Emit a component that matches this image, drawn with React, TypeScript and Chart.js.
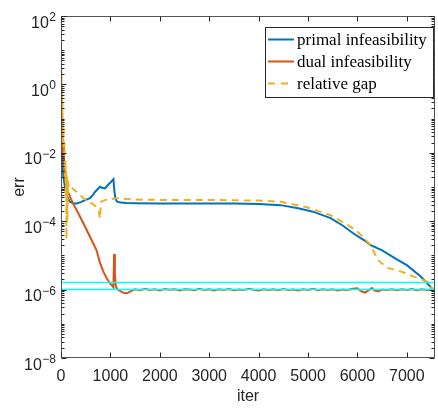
import { useEffect, useRef } from "react";
import { Chart, registerables } from "chart.js";

Chart.register(...registerables);

// ---------- data ----------
const X_MAX = 7570;
const Y_MIN = 1e-8;
const Y_MAX = 1e2;
const xTickValues = [0, 1000, 2000, 3000, 4000, 5000, 6000, 7000];
const yTickExponents = [2, 0, -2, -4, -6, -8];
const seriesNames = ["primal infeasibility", "dual infeasibility", "relative gap"];
const xLabel = "iter";
const yLabel = "err";

const primalIter = [0, 10, 20, 30, 47, 60, 80, 100, 130, 180, 250, 318, 400, 500, 588, 650, 700, 791, 830, 892, 950, 1000, 1061, 1080, 1100, 1130, 1200, 1332, 1500, 2000, 2500, 3000, 3500, 4000, 4442, 4800, 5100, 5456, 5700, 5900, 6065, 6150, 6268, 6500, 6815, 7000, 7282, 7400, 7530];
const primalVal = [1.5e-2, 8e-3, 3e-2, 5e-3, 2e-3, 1.5e-3, 1e-3, 7e-4, 5e-4, 3.7e-4, 3.3e-4, 3.3e-4, 3.6e-4, 4.2e-4, 4.7e-4, 6e-4, 7.5e-4, 1.02e-3, 9.5e-4, 9.1e-4, 1.15e-3, 1.35e-3, 1.7e-3, 8e-4, 4.6e-4, 3.8e-4, 3.5e-4, 3.4e-4, 3.35e-4, 3.3e-4, 3.3e-4, 3.3e-4, 3.3e-4, 3.2e-4, 2.95e-4, 2.4e-4, 1.9e-4, 1.23e-4, 7.5e-5, 4.6e-5, 3.2e-5, 2.7e-5, 2.0e-5, 1.4e-5, 7.4e-6, 5.2e-6, 2.4e-6, 1.6e-6, 1.0e-6];

const dualIter = [0, 5, 10, 15, 20, 30, 40, 50, 60, 70, 80, 100, 130, 180, 250, 350, 453, 550, 656, 720, 791, 860, 927, 1000, 1061, 1075, 1090, 1110, 1130, 1200, 1280, 1332, 1400, 1467, 1500, 1600, 1700, 1800, 1900, 2000, 2100, 2200, 2300, 2400, 2500, 2600, 2700, 2800, 2900, 3000, 3100, 3200, 3300, 3400, 3500, 3600, 3700, 3800, 3900, 4000, 4100, 4200, 4300, 4400, 4500, 4600, 4700, 4800, 4900, 5000, 5100, 5200, 5300, 5400, 5500, 5600, 5700, 5800, 5900, 6000, 6070, 6150, 6230, 6290, 6350, 6420, 6500, 6600, 6700, 6800, 6900, 7000, 7100, 7200, 7300, 7400, 7530];
const dualVal = [3e-1, 5e-2, 1.5e-1, 2e-2, 6e-2, 3e-2, 8e-3, 2e-2, 5e-3, 3e-3, 2e-3, 1.2e-3, 8e-4, 5.2e-4, 3.2e-4, 1.7e-4, 8.7e-5, 4.5e-5, 2.2e-5, 1.4e-5, 5.9e-6, 3.3e-6, 2.1e-6, 1.5e-6, 1.17e-6, 1.1e-5, 3e-6, 1.3e-6, 1.05e-6, 9e-7, 7.9e-7, 7.8e-7, 8.7e-7, 9.8e-7, 1.02e-6, 0.96e-6, 1.05e-6, 0.98e-6, 1.03e-6, 0.95e-6, 1.04e-6, 0.99e-6, 1.02e-6, 0.94e-6, 1.03e-6, 1.0e-6, 0.96e-6, 1.05e-6, 0.97e-6, 1.02e-6, 0.95e-6, 1.03e-6, 0.98e-6, 1.04e-6, 0.96e-6, 1.01e-6, 0.97e-6, 1.05e-6, 0.99e-6, 0.95e-6, 1.03e-6, 0.98e-6, 1.02e-6, 0.96e-6, 1.04e-6, 0.97e-6, 1.01e-6, 0.95e-6, 1.03e-6, 0.98e-6, 1.05e-6, 0.96e-6, 1.02e-6, 0.97e-6, 1.03e-6, 0.95e-6, 1.01e-6, 0.97e-6, 1.06e-6, 1.1e-6, 0.9e-6, 0.82e-6, 0.97e-6, 1.11e-6, 0.94e-6, 0.88e-6, 1.0e-6, 0.97e-6, 1.03e-6, 0.96e-6, 1.02e-6, 0.98e-6, 1.04e-6, 0.96e-6, 1.02e-6, 0.97e-6, 1.0e-6];

const gapIter = [0, 5, 10, 15, 20, 25, 30, 40, 50, 60, 70, 80, 90, 100, 105, 110, 115, 120, 125, 130, 140, 160, 200, 300, 453, 600, 723, 760, 790, 810, 900, 1127, 1500, 2000, 3000, 4000, 4442, 5000, 5456, 5800, 6000, 6268, 6410, 6613, 6880, 7140, 7424, 7530];
const gapVal = [6, 4e-1, 2.5, 2e-1, 8e-1, 5e-2, 3e-1, 2e-2, 6e-2, 8e-3, 2e-2, 2e-3, 6e-3, 5e-4, 3e-3, 3e-5, 8e-4, 1e-4, 2e-3, 1e-4, 1.5e-3, 9e-4, 1e-3, 7.5e-4, 4.7e-4, 3.5e-4, 2.6e-4, 2.2e-4, 1.2e-4, 3.7e-4, 4.2e-4, 4.7e-4, 4.3e-4, 4.2e-4, 4.2e-4, 4.0e-4, 3.7e-4, 2.5e-4, 1.5e-4, 7.8e-5, 5e-5, 2e-5, 7.4e-6, 4.3e-6, 3.4e-6, 2.4e-6, 1.7e-6, 1.0e-6];

const thresholdVals = [1.6e-6, 1e-6];

// ---------- styles ----------
const BLUE = "#0072BD";
const RED = "#D95319";
const GOLD = "#EDB120";
const CYAN = "#00FFFF";
const AXIS = "#262626";
const SANS = "'Liberation Sans', Arial, sans-serif";
const SERIF = "'Liberation Serif', 'Times New Roman', serif";

const toPts = (xs: number[], ys: number[]) => xs.map((x, i) => ({ x, y: ys[i] }));

const axesPlugin = {
  id: "matlabAxes",
  afterDraw(chart: any) {
    const { ctx, chartArea: a, scales } = chart;
    const xs = scales.x;
    const ys = scales.y;
    const L = Math.floor(a.left) + 0.5;
    const R = Math.floor(a.right) - 0.5;
    const T = Math.floor(a.top) + 0.5;
    const B = Math.floor(a.bottom) - 0.5;
    ctx.save();
    ctx.strokeStyle = "#555555";
    ctx.lineWidth = 1;
    ctx.strokeRect(L, T, R - L, B - T);
    ctx.strokeStyle = AXIS;
    ctx.beginPath();
    for (const v of xTickValues) {
      const px = Math.round(xs.getPixelForValue(v)) + 0.5;
      ctx.moveTo(px, B);
      ctx.lineTo(px, B - 5);
      ctx.moveTo(px, T);
      ctx.lineTo(px, T + 5);
    }
    for (let e = -8; e <= 2; e++) {
      const major = e % 2 === 0;
      for (let m = 1; m <= 9; m++) {
        if (e === 2 && m > 1) break;
        const v = m * Math.pow(10, e);
        const py = Math.round(ys.getPixelForValue(v)) + 0.5;
        const len = m === 1 && major ? 5 : 3;
        ctx.moveTo(L, py);
        ctx.lineTo(L + len, py);
        ctx.moveTo(R, py);
        ctx.lineTo(R - len, py);
      }
    }
    ctx.stroke();

    // y tick labels 10^k
    ctx.fillStyle = AXIS;
    for (const e of yTickExponents) {
      const py = ys.getPixelForValue(Math.pow(10, e));
      const expText = e < 0 ? "\u2212" + String(-e) : String(e);
      ctx.font = `12px ${SANS}`;
      const ew = ctx.measureText(expText).width;
      const xEnd = 56;
      ctx.textAlign = "left";
      ctx.textBaseline = "alphabetic";
      ctx.fillText(expText, xEnd - ew, py + 5);
      ctx.font = `16px ${SANS}`;
      ctx.textAlign = "right";
      ctx.fillText("10", xEnd - ew - 0.5, py + 11.5);
    }

    // axis titles
    ctx.font = `16px ${SANS}`;
    ctx.textAlign = "center";
    ctx.textBaseline = "alphabetic";
    ctx.fillText(xLabel, (a.left + a.right) / 2, 401);
    ctx.save();
    ctx.translate(24, (a.top + a.bottom) / 2);
    ctx.rotate(-Math.PI / 2);
    ctx.fillText(yLabel, 0, 0);
    ctx.restore();

    // legend
    const lx = 265.5, ly = 27.5, lw = 168, lh = 70;
    ctx.fillStyle = "#ffffff";
    ctx.fillRect(lx, ly, lw, lh);
    ctx.strokeStyle = AXIS;
    ctx.lineWidth = 1;
    ctx.strokeRect(lx, ly, lw, lh);
    const colors = [BLUE, RED, GOLD];
    const rows = [39.5, 61.5, 83.5];
    ctx.font = `17px ${SERIF}`;
    ctx.textAlign = "left";
    ctx.textBaseline = "middle";
    seriesNames.forEach((name, i) => {
      ctx.strokeStyle = colors[i];
      ctx.lineWidth = 2;
      ctx.setLineDash(i === 2 ? [7, 6] : []);
      ctx.beginPath();
      ctx.moveTo(268, rows[i]);
      ctx.lineTo(294, rows[i]);
      ctx.stroke();
      ctx.setLineDash([]);
      ctx.fillStyle = "#000000";
      ctx.fillText(name, 297, rows[i] + 1);
    });
    ctx.restore();
  },
};

export default function App() {
  const ref = useRef<HTMLCanvasElement>(null);
  useEffect(() => {
    document.body.style.margin = "0";
    const canvas = ref.current;
    if (!canvas) return;
    const chart = new Chart(canvas, {
      type: "line",
      data: {
        datasets: [
          { label: seriesNames[0], data: toPts(primalIter, primalVal), borderColor: BLUE, borderWidth: 2, order: 4 },
          { label: seriesNames[1], data: toPts(dualIter, dualVal), borderColor: RED, borderWidth: 2, order: 3 },
          { label: seriesNames[2], data: toPts(gapIter, gapVal), borderColor: GOLD, borderWidth: 2, borderDash: [7, 5], order: 2 },
          { label: "threshold 1", data: [{ x: 0, y: thresholdVals[0] }, { x: X_MAX, y: thresholdVals[0] }], borderColor: CYAN, borderWidth: 1.5, order: 1 },
          { label: "threshold 2", data: [{ x: 0, y: thresholdVals[1] }, { x: X_MAX, y: thresholdVals[1] }], borderColor: CYAN, borderWidth: 1.5, order: 1 },
        ] as any,
      },
      options: {
        animation: false,
        responsive: false,
        devicePixelRatio: 1,
        layout: { padding: { top: 16, right: 3, left: 0, bottom: 0 } },
        elements: { line: { tension: 0 }, point: { radius: 0 } },
        plugins: { legend: { display: false }, tooltip: { enabled: false } },
        scales: {
          x: {
            type: "linear",
            min: 0,
            max: X_MAX,
            grid: { display: false, drawTicks: false },
            border: { display: false },
            ticks: {
              font: { family: SANS, size: 16 },
              color: AXIS,
              padding: 9,
              maxRotation: 0,
              autoSkip: false,
              callback: (v: any) => String(v),
            },
            afterBuildTicks: (s: any) => {
              s.ticks = xTickValues.map((v) => ({ value: v }));
            },
            afterFit: (s: any) => {
              s.height = 50;
            },
          },
          y: {
            type: "logarithmic",
            min: Y_MIN,
            max: Y_MAX,
            grid: { display: false, drawTicks: false },
            border: { display: false },
            ticks: { display: false },
            afterFit: (s: any) => {
              s.width = 61;
            },
          },
        },
      } as any,
      plugins: [axesPlugin],
    });
    return () => chart.destroy();
  }, []);
  return (
    <div style={{ position: "absolute", left: 0, top: 0, width: 438, height: 408 }}>
      <canvas ref={ref} width={438} height={408} style={{ display: "block" }} />
    </div>
  );
}
